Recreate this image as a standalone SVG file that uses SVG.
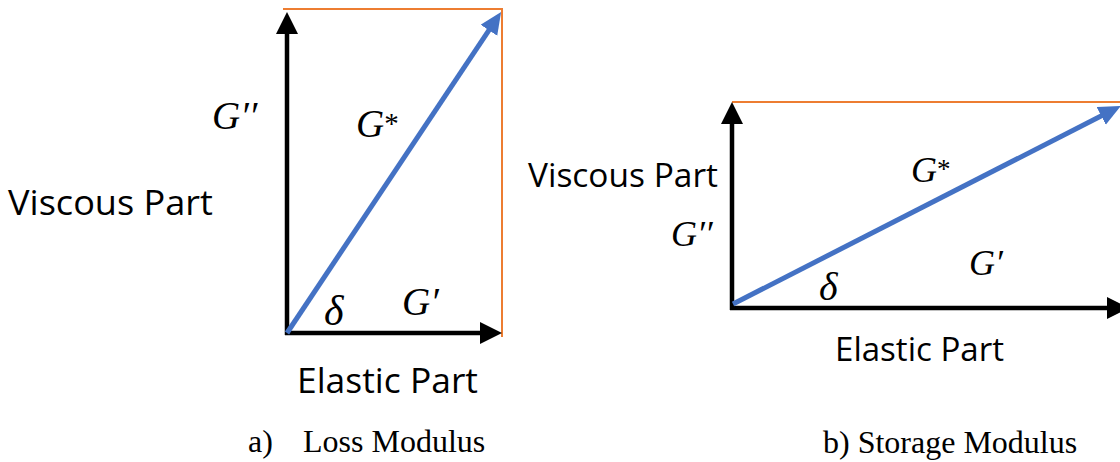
<svg xmlns="http://www.w3.org/2000/svg" width="1120" height="462" viewBox="0 0 1120 462">
  <style>
    .axis { stroke: #000; stroke-width: 4.5; fill: none; }
    .vec { stroke: #4472C4; stroke-width: 5; fill: none; }
    .guide { stroke: #ED7D31; stroke-width: 2; fill: none; }
    .lab { font-family: "Open Sans", "Liberation Sans", sans-serif; fill: #000; }
    .math { font-family: "Liberation Serif", "DejaVu Serif", serif; font-style: italic; fill: #000; }
    .cap { font-family: "Liberation Serif", "Times New Roman", serif; font-size: 32px; fill: #000; }
  </style>
  <defs>
    <marker id="ahBlack" markerUnits="userSpaceOnUse" markerWidth="24" markerHeight="24" refX="2" refY="11" orient="auto">
      <path d="M0,0 L22,11 L0,22 z" fill="#000"/>
    </marker>
    <marker id="ahBlue" markerUnits="userSpaceOnUse" markerWidth="24" markerHeight="24" refX="2" refY="10" orient="auto">
      <path d="M0,0 L22,10 L0,20 z" fill="#4472C4"/>
    </marker>
  </defs>
  <rect width="1120" height="462" fill="#fff"/>

  <g id="connectors">
    <!-- panel a -->
    <line class="guide" x1="283" y1="9" x2="503" y2="9"/>
    <line class="guide" x1="502" y1="9" x2="502" y2="337"/>
    <line class="axis" x1="287" y1="335" x2="287" y2="32" marker-end="url(#ahBlack)"/>
    <line class="axis" x1="285" y1="333" x2="482" y2="333" marker-end="url(#ahBlack)"/>
    <line class="vec" x1="287" y1="333" x2="490" y2="28.6" marker-end="url(#ahBlue)"/>
    <!-- panel b -->
    <line class="guide" x1="732" y1="102" x2="1120" y2="102"/>
    <line class="axis" x1="732" y1="310" x2="732" y2="122" marker-end="url(#ahBlack)"/>
    <line class="axis" x1="730" y1="308" x2="1109" y2="308" marker-end="url(#ahBlack)"/>
    <line class="vec" x1="733" y1="304" x2="1103" y2="115" marker-end="url(#ahBlue)"/>
  </g>

  <g id="panel-a-labels">
    <text id="a-viscous" class="lab" x="8" y="215" font-size="35" textLength="205" lengthAdjust="spacingAndGlyphs">Viscous Part</text>
    <text id="a-elastic" class="lab" x="297" y="393" font-size="35" textLength="181" lengthAdjust="spacingAndGlyphs">Elastic Part</text>
    <text id="a-gpp" class="math" x="212" y="129" font-size="39">G′′</text>
    <text id="a-gstar" class="math" x="356" y="137" font-size="39">G<tspan font-style="normal" font-size="29" dy="-4">*</tspan></text>
    <text id="a-delta" class="math" x="324" y="325" font-size="42">δ</text>
    <text id="a-gp" class="math" x="402" y="315" font-size="39">G′</text>
    <text id="a-caption" class="cap" x="248" y="452">a)<tspan x="303">Loss Modulus</tspan></text>
  </g>

  <g id="panel-b-labels">
    <text id="b-viscous" class="lab" x="528" y="187" font-size="32.5" textLength="190" lengthAdjust="spacingAndGlyphs">Viscous Part</text>
    <text id="b-elastic" class="lab" x="835" y="361" font-size="32.5" textLength="169" lengthAdjust="spacingAndGlyphs">Elastic Part</text>
    <text id="b-gpp" class="math" x="671" y="246" font-size="36">G′′</text>
    <text id="b-gstar" class="math" x="911" y="182" font-size="36">G<tspan font-style="normal" font-size="27" dy="-4">*</tspan></text>
    <text id="b-delta" class="math" x="819" y="300" font-size="40">δ</text>
    <text id="b-gp" class="math" x="969" y="275" font-size="36">G′</text>
    <text id="b-caption" class="cap" x="823" y="453">b) Storage Modulus</text>
  </g>
</svg>
